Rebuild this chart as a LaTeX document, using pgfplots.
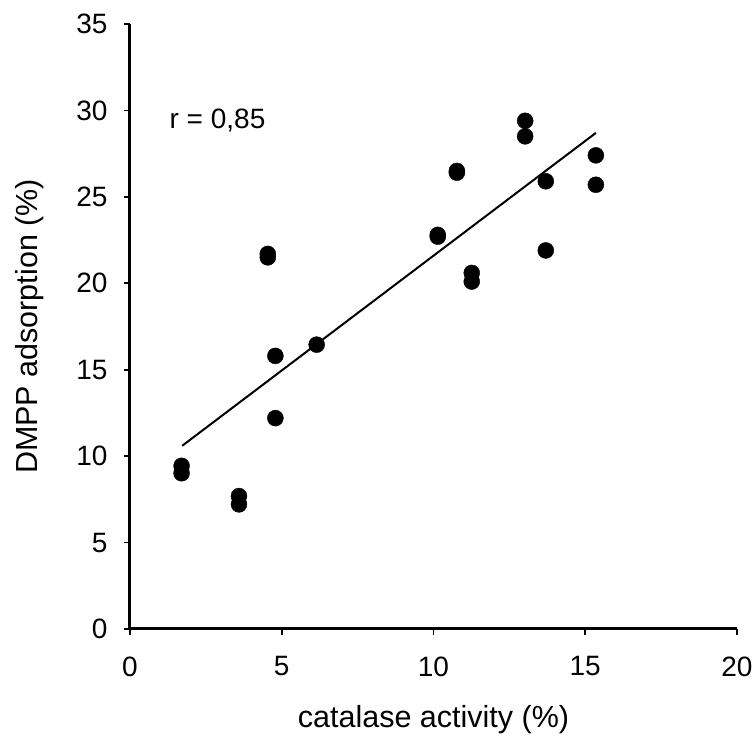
\documentclass[border=0pt]{standalone}
\usepackage{pgfplots}
\pgfplotsset{compat=1.18}
\usepackage{fontspec}
\setmainfont{Liberation Sans}
\begin{document}
\begin{tikzpicture}
\useasboundingbox (-130pt,-115pt) rectangle (623pt,629pt);
\begin{axis}[
  at={(0,0)}, anchor=south west,
  scale only axis, width=607pt, height=605pt,
  xmin=0, xmax=20, ymin=0, ymax=35,
  xtick={0,5,10,15,20}, ytick={0,5,10,15,20,25,30,35},
  axis x line=bottom, axis y line=left,
  axis line style={-, line width=3pt},
  tick style={black, line width=1.6pt},
  tick align=outside, major tick length=6pt,
  /pgf/number format/assume math mode=true,
  tick label style={font=\fontsize{28}{33}\selectfont},
  xticklabel style={yshift=-18pt},
  yticklabel style={xshift=-13pt},
  label style={font=\fontsize{30.5}{36}\selectfont},
  xlabel={catalase activity (\%)},
  ylabel={DMPP adsorption (\%)},
  xlabel style={at={(axis description cs:0.5,0)}, anchor=center, yshift=-91pt},
  ylabel style={at={(axis description cs:0,0.5)}, anchor=center, yshift=100pt},
  clip=false,
]
\addplot[only marks, mark=*, mark size=8pt, black] coordinates {
(1.70,9.44) (1.70,9.01)
(3.59,7.69) (3.59,7.21)
(4.54,21.7) (4.54,21.5)
(4.79,15.8) (4.79,12.2)
(6.15,16.45)
(10.14,22.8) (10.14,22.7)
(10.77,26.5) (10.77,26.4)
(11.26,20.6) (11.26,20.1)
(13.02,29.4) (13.02,28.5)
(13.7,25.9) (13.7,21.9)
(15.35,27.4) (15.35,25.7)
};
\addplot[black, line width=2pt, no marks] coordinates {(1.72,10.6) (15.35,28.7)};
\node[anchor=west, font=\fontsize{28}{33}\selectfont, inner sep=0pt] at (axis cs:1.3,29.4) {r = 0,85};
\end{axis}
\end{tikzpicture}
\end{document}
